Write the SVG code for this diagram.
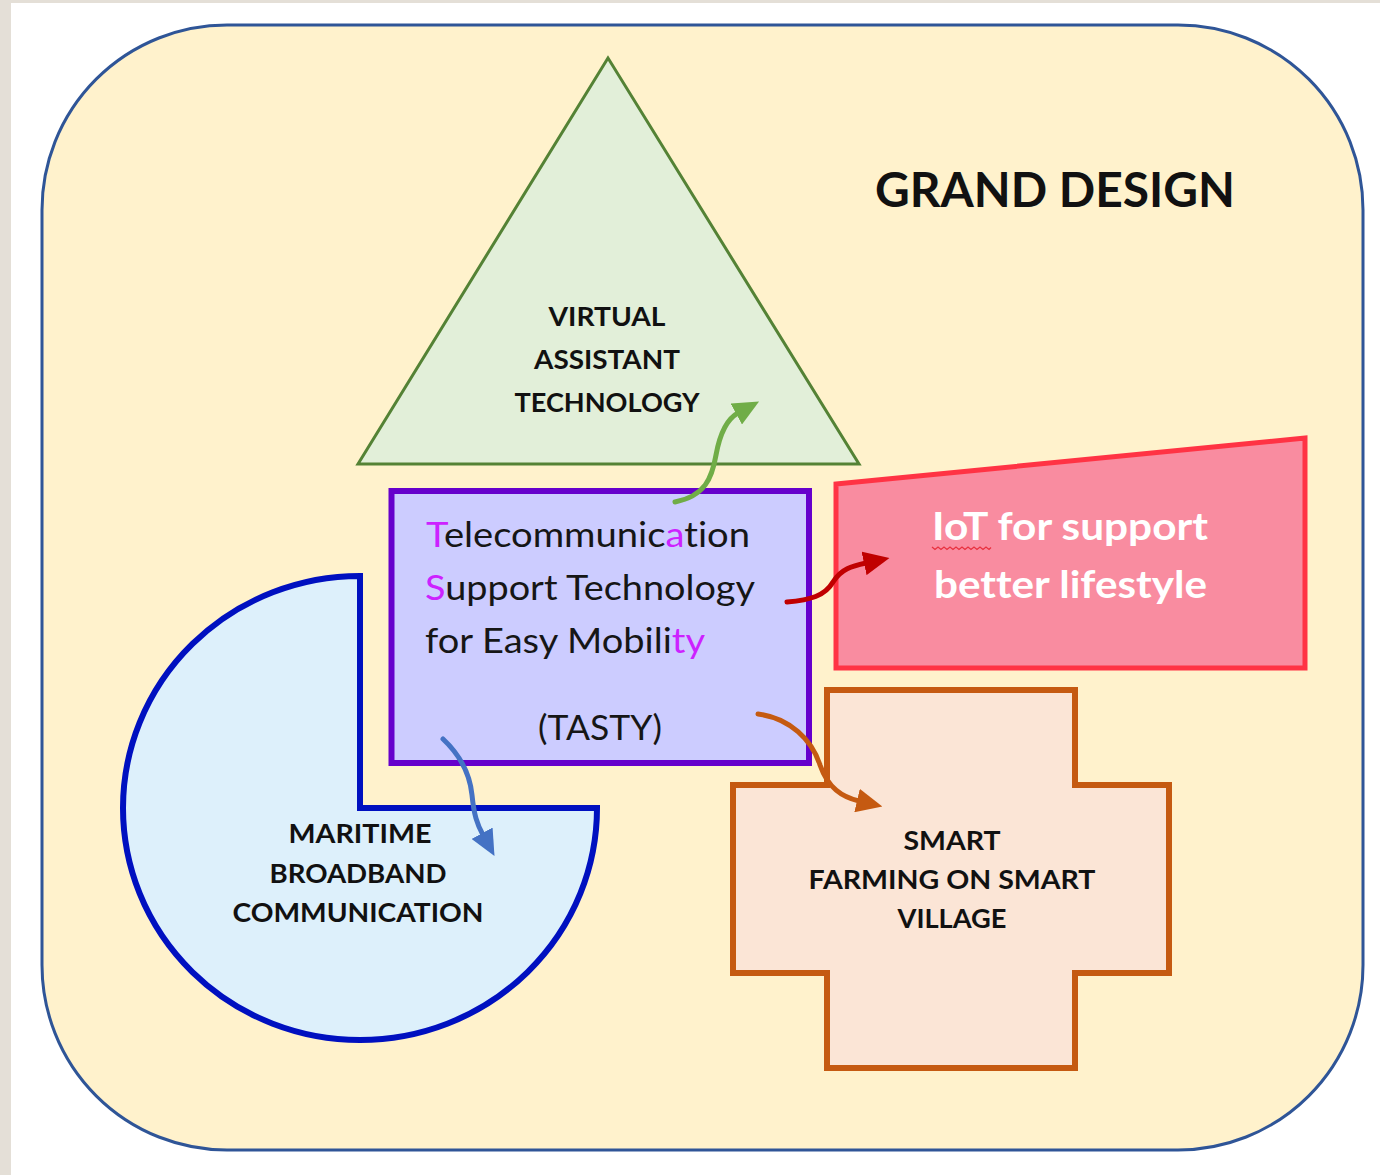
<svg xmlns="http://www.w3.org/2000/svg" width="1380" height="1175" viewBox="0 0 1380 1175">
<style>
text{font-variant-ligatures:none}
.lbl{font-family:Lato,"Open Sans","Liberation Sans",sans-serif;font-weight:700;fill:#111;text-anchor:middle}
.body{font-family:Lato,"Open Sans","Liberation Sans",sans-serif;font-weight:400;fill:#161616}
.hl{fill:#cc22ff}
.conn{fill:none;stroke-width:5;stroke-linecap:round}
</style>
<defs>
<marker id="mG" markerUnits="userSpaceOnUse" markerWidth="26" markerHeight="24" viewBox="0 0 26 24" refX="2" refY="12" orient="auto"><path d="M0,0 L26,12 L0,24 Z" fill="#70ad47"/></marker>
<marker id="mR" markerUnits="userSpaceOnUse" markerWidth="26" markerHeight="24" viewBox="0 0 26 24" refX="2" refY="12" orient="auto"><path d="M0,0 L26,12 L0,24 Z" fill="#c00000"/></marker>
<marker id="mO" markerUnits="userSpaceOnUse" markerWidth="26" markerHeight="24" viewBox="0 0 26 24" refX="2" refY="12" orient="auto"><path d="M0,0 L26,12 L0,24 Z" fill="#c55a11"/></marker>
<marker id="mB" markerUnits="userSpaceOnUse" markerWidth="26" markerHeight="24" viewBox="0 0 26 24" refX="2" refY="12" orient="auto"><path d="M0,0 L26,12 L0,24 Z" fill="#4472c4"/></marker>
</defs>
<rect x="0" y="0" width="1380" height="1175" fill="#ffffff"/>
<rect x="0" y="0" width="11" height="1175" fill="#e4dfd7"/>
<rect x="0" y="0" width="1380" height="3" fill="#e4dfd7"/>

<g id="grand-design">
<rect x="42" y="25" width="1321" height="1125" rx="185" ry="185" fill="#fff2cc" stroke="#2f5597" stroke-width="3"/>
<text x="1055" y="207" class="lbl" font-size="48" font-weight="700" textLength="360" lengthAdjust="spacingAndGlyphs">GRAND DESIGN</text>
</g>

<g id="virtual-assistant">
<polygon points="608,58 358,464 859,464" fill="#e2efd9" stroke="#548235" stroke-width="3" stroke-linejoin="miter"/>
<text x="607" y="326" class="lbl" font-size="27" textLength="117" lengthAdjust="spacingAndGlyphs">VIRTUAL</text>
<text x="607" y="369" class="lbl" font-size="27" textLength="146" lengthAdjust="spacingAndGlyphs">ASSISTANT</text>
<text x="607" y="412" class="lbl" font-size="27" textLength="185" lengthAdjust="spacingAndGlyphs">TECHNOLOGY</text>
</g>

<g id="tasty">
<rect x="391.5" y="491" width="417.5" height="272" fill="#ccccff" stroke="#6600cc" stroke-width="6"/>
<text x="426" y="547" class="body" font-size="35" textLength="324" lengthAdjust="spacingAndGlyphs"><tspan class="hl">T</tspan>elecommunic<tspan class="hl">a</tspan>tion</text>
<text x="425" y="600" class="body" font-size="35" textLength="330" lengthAdjust="spacingAndGlyphs"><tspan class="hl">S</tspan>upport Technology</text>
<text x="425" y="653" class="body" font-size="35" textLength="280" lengthAdjust="spacingAndGlyphs">for Easy Mobili<tspan class="hl">ty</tspan></text>
<text x="538" y="740" class="body" font-size="35" textLength="124" lengthAdjust="spacingAndGlyphs">(TASTY)</text>
</g>

<g id="iot">
<polygon points="836,484 1305,438 1305,668 836,668" fill="#f98ca0" stroke="#ff3344" stroke-width="5"/>
<text x="932" y="540" font-family="Lato,'Open Sans','Liberation Sans',sans-serif" font-weight="700" font-size="38" fill="#ffffff" textLength="276" lengthAdjust="spacingAndGlyphs">IoT for support</text>
<text x="934" y="598" font-family="Lato,'Open Sans','Liberation Sans',sans-serif" font-weight="700" font-size="38" fill="#ffffff" textLength="273" lengthAdjust="spacingAndGlyphs">better lifestyle</text>
<path d="M932,547 l3,2.5 l3,-2.5 l3,2.5 l3,-2.5 l3,2.5 l3,-2.5 l3,2.5 l3,-2.5 l3,2.5 l3,-2.5 l3,2.5 l3,-2.5 l3,2.5 l3,-2.5 l3,2.5 l3,-2.5 l3,2.5 l3,-2.5 l3,2.5 l2,-2" fill="none" stroke="#e8313f" stroke-width="1.2"/>
</g>

<g id="maritime">
<path d="M360,808 L360,576 A237,232 0 1 0 597,808 Z" fill="#ddf0fb" stroke="#0010c0" stroke-width="6" stroke-linejoin="miter"/>
<text x="360" y="843" class="lbl" font-size="27" textLength="143" lengthAdjust="spacingAndGlyphs">MARITIME</text>
<text x="358" y="883" class="lbl" font-size="27" textLength="177" lengthAdjust="spacingAndGlyphs">BROADBAND</text>
<text x="358" y="922" class="lbl" font-size="27" textLength="251" lengthAdjust="spacingAndGlyphs">COMMUNICATION</text>
</g>

<g id="smart-farming">
<polygon points="827,690 1075,690 1075,785 1169,785 1169,973 1075,973 1075,1068 827,1068 827,973 733,973 733,785 827,785" fill="#fbe5d6" stroke="#c55a11" stroke-width="6"/>
<text x="952" y="850" class="lbl" font-size="26" textLength="97" lengthAdjust="spacingAndGlyphs">SMART</text>
<text x="952" y="889" class="lbl" font-size="26" textLength="287" lengthAdjust="spacingAndGlyphs">FARMING ON SMART</text>
<text x="952" y="928" class="lbl" font-size="26" textLength="109" lengthAdjust="spacingAndGlyphs">VILLAGE</text>
</g>

<g id="connectors">
<path class="conn" stroke="#70ad47" d="M675,502 C705,496 712,478 716,455 C720,433 727,419 738,413" marker-end="url(#mG)"/>
<path class="conn" stroke="#c00000" d="M787,602 C810,600 825,596 833,582 C841,569 852,566 866,563" marker-end="url(#mR)"/>
<path class="conn" stroke="#c55a11" d="M758,714 C790,718 812,740 820,765 C828,788 842,797 859,801" marker-end="url(#mO)"/>
<path class="conn" stroke="#4472c4" d="M443,739 C460,755 470,775 472,795 C474,815 477,824 483,835" marker-end="url(#mB)"/>
</g>
</svg>
